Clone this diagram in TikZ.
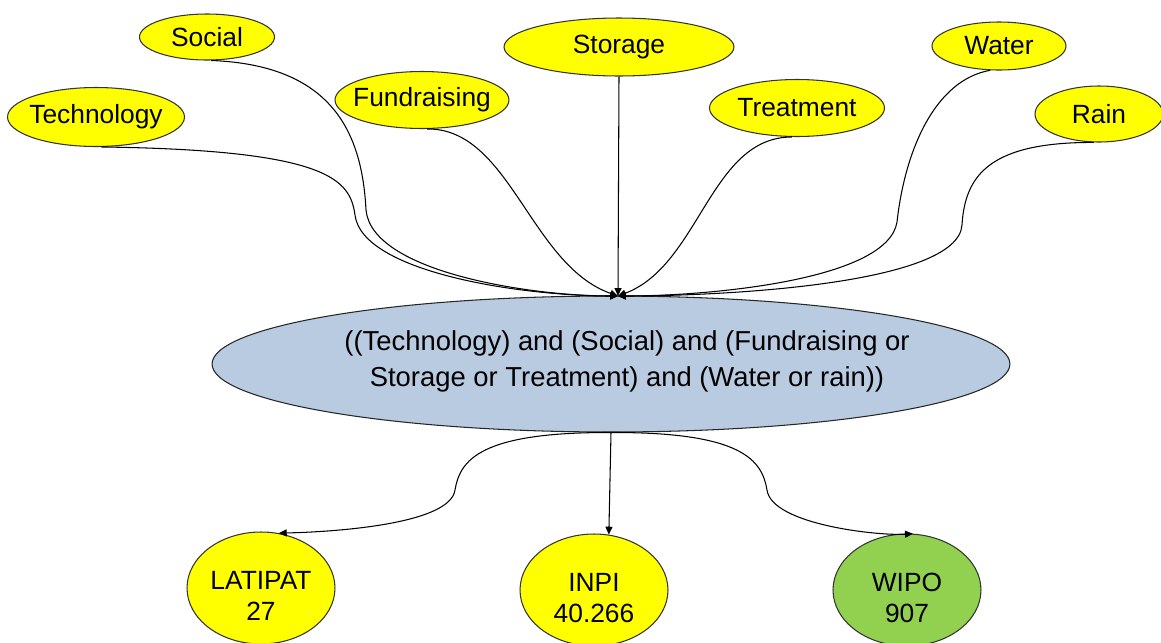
\documentclass[tikz,border=0pt]{standalone}
\usepackage{fontspec}
\setmainfont{Liberation Sans}
\usetikzlibrary{shapes.geometric,arrows.meta}
\definecolor{kwyellow}{RGB}{255,255,0}
\definecolor{hubblue}{RGB}{185,203,225}
\definecolor{wipogreen}{RGB}{146,208,80}

\begin{document}
\begin{tikzpicture}[x=0.02cm,y=-0.02cm,
  font=\fontsize{15}{18}\selectfont,
  kw/.style={ellipse,draw=black!80,fill=kwyellow,inner sep=0pt,line width=0.6pt},
  base/.style={kw,minimum width=2.96cm,minimum height=2.24cm},
  link/.style={line width=0.6pt,-{Triangle[length=4.5pt,width=4pt]}}]
  \path[use as bounding box,fill=white] (0,0) rectangle (1161,643);
  \clip (0,0) rectangle (1161,643);

  \foreach \nm/\txt/\x/\y/\w/\h in {social/Social/207/37/2.70/0.92,
    tech/Technology/96/117/3.54/1.18,
    fund/Fundraising/422/100/3.48/1.14,
    storage/Storage/619/47/4.60/1.16,
    treat/Treatment/797/108/3.50/1.14,
    water/Water/999/46/2.68/0.96,
    rain/Rain/1099/114/2.56/1.12} {
    \node[kw,minimum width=\w cm,minimum height=\h cm,label=center:\txt] (\nm) at (\x,\y) {};
  }

  \node[ellipse,draw=black!85,fill=hubblue,line width=0.6pt,
    minimum width=15.96cm,minimum height=2.72cm] (hub) at (611,364) {};
  \node[align=center,font=\fontsize{15.6}{20.5}\selectfont] (query) at (627,361)
    {((Technology) and (Social) and (Fundraising or\\Storage or Treatment) and (Water or rain))};
  \coordinate (meet) at (618,296);

  \node[base,label={[align=center,yshift=-4.5pt]center:LATIPAT\\27}] (latipat) at (261,588) {};
  \node[base,label={[align=center,yshift=-4.5pt]center:INPI\\40.266}] (inpi) at (594,590) {};
  \node[base,fill=wipogreen,label={[align=center,yshift=-4.5pt]center:WIPO\\907}] (wipo) at (907,590) {};

  \draw[link] (tech.-80) .. controls (330,150) and (350,180) .. (355,215)
    .. controls (362,272) and (520,296) .. (meet);
  \draw[link] (social.-80) .. controls (330,65) and (362,130) .. (366,210)
    .. controls (372,272) and (530,296) .. (meet);
  \draw[link] (fund.-80) .. controls (510,128) and (530,265) .. (meet);
  \draw[link] (storage.south) -- (meet);
  \draw[link] (treat.-100) .. controls (710,137) and (700,265) .. (meet);
  \draw[link] (water.250) .. controls (935,80) and (905,150) .. (897,222)
    .. controls (888,280) and (710,296) .. (meet);
  \draw[link] (rain.-100) .. controls (990,142) and (965,175) .. (962,225)
    .. controls (958,285) and (720,296) .. (meet);

  \draw[link] (hub.south) .. controls (480,432) and (460,460) .. (455,490)
    .. controls (450,525) and (330,532) .. (latipat.72);
  \draw[link] (hub.south) -- (inpi.75);
  \draw[link] (hub.south) .. controls (742,432) and (762,460) .. (767,490)
    .. controls (772,525) and (880,536) .. (wipo.84);
\end{tikzpicture}
\end{document}
